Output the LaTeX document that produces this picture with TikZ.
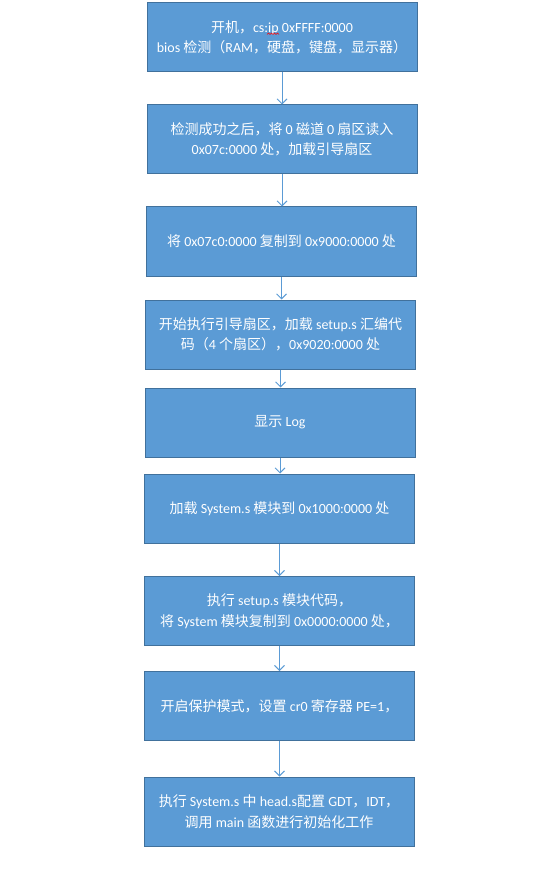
\documentclass[tikz,border=0pt]{standalone}
\usepackage{fontspec}
\setmainfont{Carlito}
\newfontfamily\zh{Noto Sans CJK SC}
\usetikzlibrary{arrows.meta}
\definecolor{boxfill}{HTML}{5B9BD5}
\definecolor{boxline}{HTML}{41719C}
\definecolor{arrowc}{HTML}{5B9BD5}
\tikzset{
  stepbox/.style={rectangle, fill=boxfill, draw=boxline, line width=1pt,
    minimum width=270pt, minimum height=69pt, inner sep=0pt,
    align=center, text=white, font=\fontsize{14}{20.5}\selectfont},
  flow/.style={draw=arrowc, line width=0.9pt, -{Straight Barb[length=5pt,width=10pt,line width=0.9pt]}}
}
\begin{document}
\begin{tikzpicture}[x=1pt,y=-1pt]
\useasboundingbox (0,0) rectangle (554,877);
\node[stepbox] (b1) at (282,37.5) {{\zh 开机，}cs:ip 0xFFFF:0000\\bios {\zh 检测（}RAM{\zh ，硬盘，键盘，显示器）}};
\node[stepbox] (b2) at (282,139.5) {{\zh 检测成功之后，将} 0 {\zh 磁道} 0 {\zh 扇区读入}\\0x07c:0000 {\zh 处，加载引导扇区}};
\node[stepbox] (b3) at (281.5,241.5) {{\zh 将} 0x07c0:0000 {\zh 复制到} 0x9000:0000 {\zh 处}};
\node[stepbox] (b4) at (280.5,334.5) {{\zh 开始执行引导扇区，加载} setup.s {\zh 汇编代}\\{\zh 码（}4 {\zh 个扇区），}0x9020:0000 {\zh 处}};
\node[stepbox] (b5) at (280,422.5) {{\zh 显示} Log};
\node[stepbox] (b6) at (279.5,508.5) {{\zh 加载} System.s {\zh 模块到} 0x1000:0000 {\zh 处}};
\node[stepbox] (b7) at (279.5,611) {{\zh 执行} setup.s {\zh 模块代码，}\\{\zh 将} System {\zh 模块复制到} 0x0000:0000 {\zh 处，}};
\node[stepbox] (b8) at (279.5,706) {{\zh 开启保护模式，设置} cr0 {\zh 寄存器} PE=1{\zh ，}};
\node[stepbox] (b9) at (279,811.5) {{\zh 执行} System.s {\zh 中} head.s{\zh 配置} GDT{\zh ，}IDT{\zh ，}\\{\zh 调用} main {\zh 函数进行初始化工作}};
\foreach \a/\b in {b1/b2,b2/b3,b3/b4,b4/b5,b5/b6,b6/b7,b7/b8,b8/b9}
  \draw[flow] (\a.south) -- (\a.south |- \b.north);
\draw[red, line width=0.6pt] (267,34.5) -- (268.5,33) -- (270,34.5) -- (271.5,33) -- (273,34.5) -- (274.5,33) -- (276,34.5) -- (277.5,33) -- (279,34.5);
\end{tikzpicture}
\end{document}
